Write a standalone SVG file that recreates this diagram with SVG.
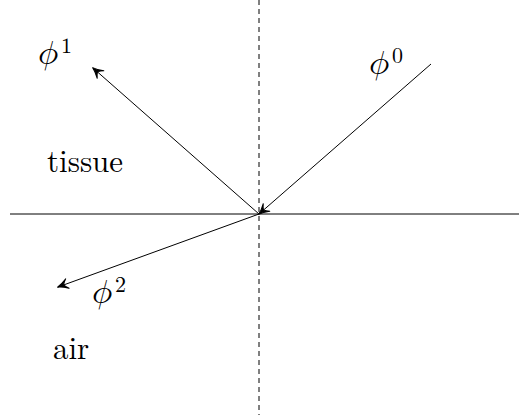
<svg xmlns="http://www.w3.org/2000/svg" width="519" height="415" viewBox="0 0 519 415">
<style>
.ln{stroke:#000;stroke-width:1;fill:none}
.ah{stroke:#000;stroke-width:1;fill:#000;stroke-linejoin:round}
.m{font-family:'Latin Modern Math',serif}
.r{font-family:'Latin Modern Roman',serif;font-size:31px}
</style>
<defs>
<marker id="ah" viewBox="-12 -6 13 12" refX="0" refY="0" markerWidth="13" markerHeight="12" markerUnits="userSpaceOnUse" orient="auto" overflow="visible">
<path class="ah" d="M-10,-5 C-6,-2.4 -2,-0.6 0.5,0 C-2,0.6 -6,2.4 -10,5 C-7.5,2.6 -6.5,1.2 -6,0 C-6.5,-1.2 -7.5,-2.6 -10,-5 Z"/>
</marker>
</defs>
<g id="connectors">
<line id="interface" class="ln" x1="10" y1="214" x2="519" y2="214"/>
<line id="normal" class="ln" x1="259" y1="0" x2="259" y2="415" stroke-dasharray="5,4"/>
<line id="incident" class="ln" x1="431" y1="64" x2="259" y2="214" marker-end="url(#ah)"/>
<line id="reflected" class="ln" x1="259" y1="214" x2="93" y2="68" marker-end="url(#ah)"/>
<line id="refracted" class="ln" x1="259" y1="214" x2="58" y2="287" marker-end="url(#ah)"/>
</g>
<g id="label-phi1"><text class="m" font-size="34" x="38" y="64">𝜙</text><text class="m" font-size="22" x="61" y="53">1</text></g>
<g id="label-phi0"><text class="m" font-size="34" x="369" y="74">𝜙</text><text class="m" font-size="22" x="392" y="63">0</text></g>
<g id="label-phi2"><text class="m" font-size="34" x="92" y="303">𝜙</text><text class="m" font-size="22" x="115" y="292">2</text></g>
<g id="label-tissue"><text class="r" x="47" y="172">tissue</text></g>
<g id="label-air"><text class="r" x="53" y="359">air</text></g>
</svg>
